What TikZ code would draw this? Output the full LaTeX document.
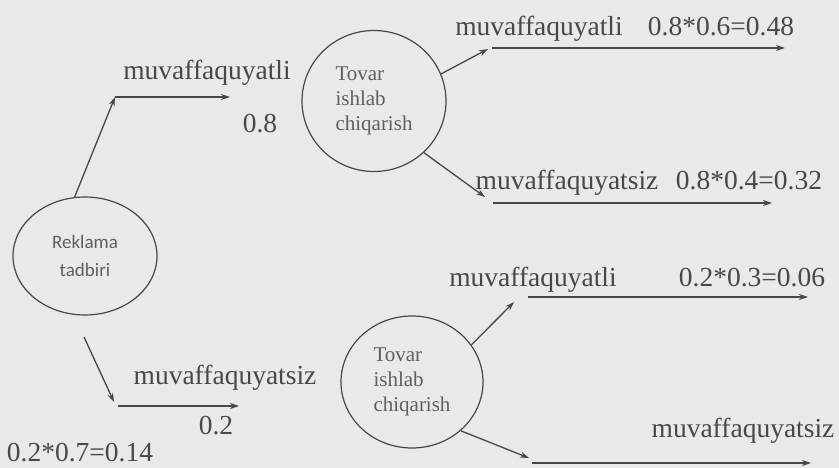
\documentclass[tikz,border=0pt]{standalone}
\usepackage{fontspec}
\setmainfont{Liberation Serif}
\newfontfamily\labelsans{Carlito}
\usetikzlibrary{shapes.geometric,arrows.meta}
\definecolor{bg}{RGB}{233,233,233}
\definecolor{ink}{RGB}{72,72,72}
\definecolor{softink}{RGB}{95,95,95}
\begin{document}
\begin{tikzpicture}[x=1pt,y=-1pt,
  conn/.style={draw=ink,line width=1.3pt,-{Stealth[length=9pt,width=6pt]}},
  bubble/.style={draw=ink,line width=1.2pt,ellipse,inner sep=0pt},
  lbl/.style={text=ink,font=\fontsize{27.5}{30}\selectfont,anchor=base,inner sep=0pt},
  tovartxt/.style={text=softink,font=\fontsize{21}{25}\selectfont,align=left}]
\fill[bg] (0,0) rectangle (839,468);
\useasboundingbox (0,0) rectangle (839,468);

% bubbles
\node[bubble,minimum width=144pt,minimum height=118pt,text=softink,
      font=\labelsans\fontsize{19}{28}\selectfont,align=center] (rek) at (85,256) {Reklama\\tadbiri};
\node[bubble,tovartxt,minimum width=144pt,minimum height=141pt] (t1) at (374,101) {Tovar\\ishlab\\chiqarish};
\node[bubble,tovartxt,minimum width=142pt,minimum height=132pt] (t2) at (412,382) {Tovar\\ishlab\\chiqarish};

% coordinates of free ends
\coordinate (h1) at (115,97);   \coordinate (h1e) at (230,97);
\coordinate (d0) at (84,337);   \coordinate (d1) at (114,402);
\coordinate (h2) at (118,406);  \coordinate (h2e) at (239,406);
\coordinate (c3) at (488,49);   \coordinate (h3) at (492,48);  \coordinate (h3e) at (785,48);
\coordinate (c4) at (485,197);  \coordinate (h4) at (493,203); \coordinate (h4e) at (772,203);
\coordinate (c5) at (514,302);  \coordinate (h5) at (528,297); \coordinate (h5e) at (808,297);
\coordinate (c6) at (529,458);  \coordinate (h6) at (532,463); \coordinate (h6e) at (811,463);

% connectors
\draw[conn] (rek.100) -- (h1);
\draw[conn] (h1) -- (h1e);
\draw[conn] (d0) -- (d1);
\draw[conn] (h2) -- (h2e);
\draw[conn] (t1.22) -- (c3);
\draw[conn] (h3) -- (h3e);
\draw[conn] (t1.-46) -- (c4);
\draw[conn] (h4) -- (h4e);
\draw[conn] (t2.32) -- (c5);
\draw[conn] (h5) -- (h5e);
\draw[conn] (t2.-45) -- (c6);
\draw[conn] (h6) -- (h6e);

% labels
\node[lbl] (l1) at (207,80) {muvaffaquyatli};
\node[lbl] (l2) at (260,133) {0.8};
\node[lbl] (l3) at (225,384) {muvaffaquyatsiz};
\node[lbl] (l4) at (216,434) {0.2};
\node[lbl] (l5) at (80,461) {0.2*0.7=0.14};
\node[lbl] (l6) at (539,36) {muvaffaquyatli};
\node[lbl] (l7) at (721,36) {0.8*0.6=0.48};
\node[lbl] (l8) at (567,190) {muvaffaquyatsiz};
\node[lbl] (l9) at (749,190) {0.8*0.4=0.32};
\node[lbl] (l10) at (533,287) {muvaffaquyatli};
\node[lbl] (l11) at (752,287) {0.2*0.3=0.06};
\node[lbl] (l12) at (743,437) {muvaffaquyatsiz};
\end{tikzpicture}
\end{document}
